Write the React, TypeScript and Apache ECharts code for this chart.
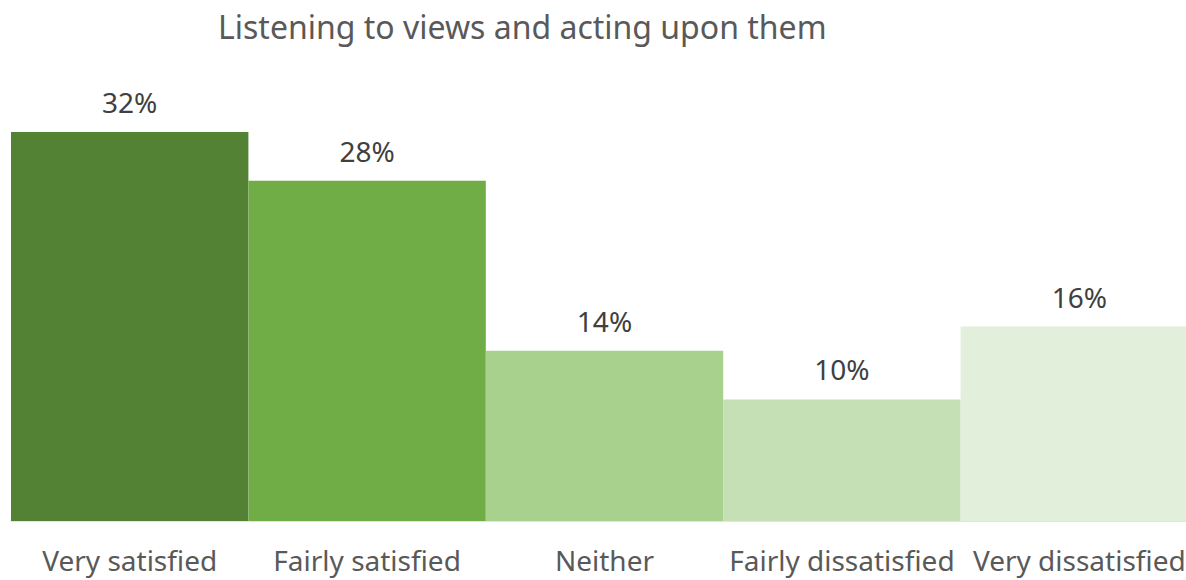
import React, { useEffect, useRef } from "react";
import * as echarts from "echarts";

const categories = ["Very satisfied", "Fairly satisfied", "Neither", "Fairly dissatisfied", "Very dissatisfied"];
const values = [32, 28, 14, 10, 16];
const barColors = ["#548235", "#70AD47", "#A9D18E", "#C5E0B4", "#E2EFDA"];
const titleText = "Listening to views and acting upon them";

export default function App() {
  const ref = useRef<HTMLDivElement>(null);
  useEffect(() => {
    const chart = echarts.init(ref.current!, null, { renderer: "svg" });
    const font = "'Noto Sans', sans-serif";
    chart.setOption({
      animation: false,
      backgroundColor: "#ffffff",
      title: {
        text: titleText,
        left: 213,
        top: 5,
        textStyle: { fontFamily: font, fontSize: 32, fontWeight: "normal", color: "#595959" },
      },
      grid: { left: 11, right: 0, top: 132, bottom: 59, containLabel: false },
      xAxis: {
        type: "category",
        data: categories,
        axisLine: { show: true, lineStyle: { color: "#d9d9d9", width: 1.5 } },
        axisTick: { show: false },
        axisLabel: { fontFamily: font, fontSize: 28, lineHeight: 28, color: "#595959", margin: 25, interval: 0 },
      },
      yAxis: {
        type: "value",
        min: 0,
        max: 32,
        show: false,
        splitLine: { show: false },
      },
      series: [
        {
          type: "bar",
          barCategoryGap: "0%",
          barWidth: "100%",
          data: values.map((v, i) => ({ value: v, itemStyle: { color: barColors[i] } })),
          label: {
            show: true,
            position: "top",
            distance: 16,
            formatter: "{c}%",
            fontFamily: font,
            fontSize: 28,
            color: "#404040",
          },
        },
      ],
    });
    return () => chart.dispose();
  }, []);
  return (
    <div style={{ position: "fixed", left: 0, top: 0, width: 1186, height: 580, overflow: "hidden", background: "#fff" }}>
      <div ref={ref} style={{ width: 1198, height: 580 }} />
    </div>
  );
}
